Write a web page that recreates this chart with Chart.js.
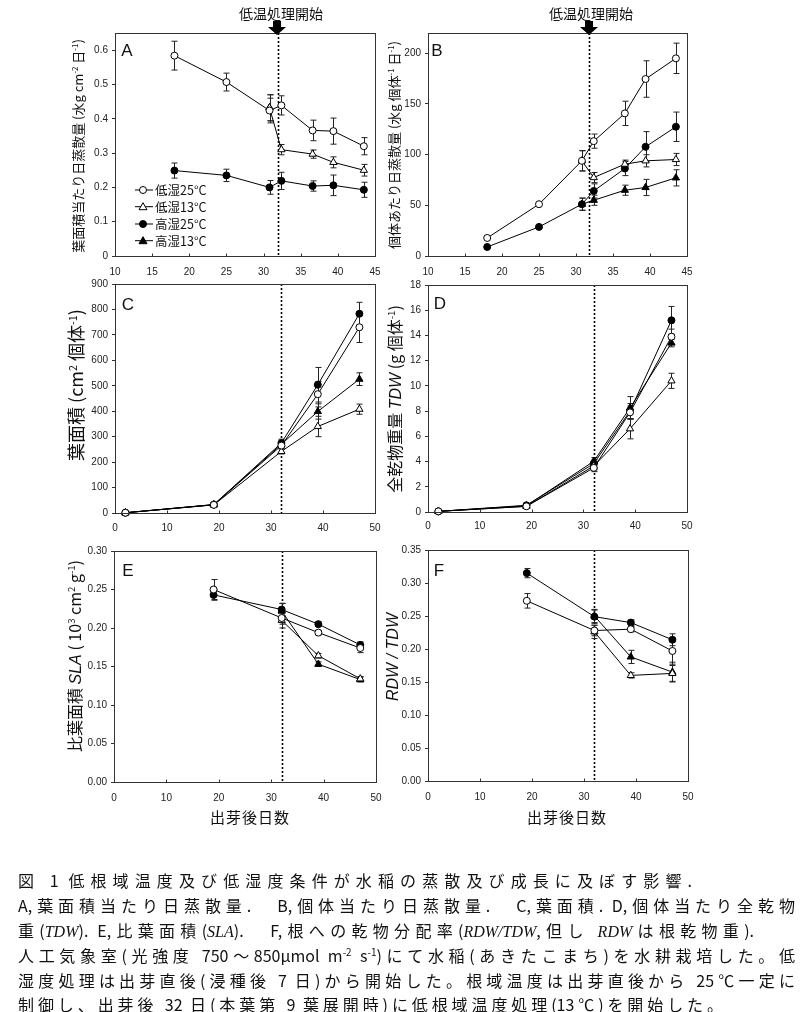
<!DOCTYPE html>
<html><head><meta charset="utf-8">
<script src="https://cdn.jsdelivr.net/npm/chart.js@4.4.0/dist/chart.umd.min.js"></script>
<style>
html,body{margin:0;padding:0;background:#fff;}
#wrap{position:relative;width:806px;height:1012px;overflow:hidden;background:#fff;}
canvas{position:absolute;left:0;top:0;}
.t{position:absolute;white-space:nowrap;color:#111;font-family:"Noto Sans CJK JP","Noto Sans",sans-serif;line-height:1;}
.rot{transform:translate(-50%,-50%) rotate(-90deg);}
.ctr{transform:translate(-50%,-50%);}
.lat{font-family:"Liberation Sans",Arial,sans-serif;}
sup{font-size:0.6em;vertical-align:0.6em;line-height:0;}
.cap{position:absolute;left:18px;height:22px;line-height:22px;font-size:16px;color:#111;
  font-family:"Noto Sans CJK JP",sans-serif;text-align:justify;text-align-last:justify;}
.cap i{font-family:"Liberation Serif",serif;}
.cap sup{font-size:10px;vertical-align:6px;}
</style></head>
<body><div id="wrap">
<canvas id="cA" width="806" height="1012"></canvas>
<canvas id="cB" width="806" height="1012"></canvas>
<canvas id="cC" width="806" height="1012"></canvas>
<canvas id="cD" width="806" height="1012"></canvas>
<canvas id="cE" width="806" height="1012"></canvas>
<canvas id="cF" width="806" height="1012"></canvas>

<div class="t ctr" style="left:281px;top:13px;font-size:14px;">低温処理開始</div>
<div class="t ctr" style="left:591px;top:13px;font-size:14px;">低温処理開始</div>
<svg style="position:absolute;left:0;top:0" width="806" height="60">
  <polygon points="273,21 281,21 281,27 286,27 277,35 268,27 273,27" fill="#000"/>
  <polygon points="585,21 593,21 593,27 598,27 589,35 580,27 585,27" fill="#000"/>
</svg>

<div class="t lat ctr" style="left:127px;top:50px;font-size:17px;">A</div>
<div class="t lat ctr" style="left:437px;top:50px;font-size:17px;">B</div>
<div class="t lat ctr" style="left:128px;top:304px;font-size:17px;">C</div>
<div class="t lat ctr" style="left:440px;top:303px;font-size:17px;">D</div>
<div class="t lat ctr" style="left:128px;top:570px;font-size:17px;">E</div>
<div class="t lat ctr" style="left:439px;top:570px;font-size:17px;">F</div>

<div class="t rot" style="left:77px;top:146px;font-size:13px;">葉面積当たり日蒸散量 (水g cm<sup>-2</sup> 日<sup>-1</sup>)</div>
<div class="t rot" style="left:393px;top:145px;font-size:13px;">個体あたり日蒸散量 (水g 個体<sup>-1</sup> 日<sup>-1</sup>)</div>
<div class="t rot" style="left:75px;top:385px;font-size:18px;">葉面積 (cm<sup>2</sup> 個体<sup>-1</sup>)</div>
<div class="t rot" style="left:395px;top:399px;font-size:16px;">全乾物重量 <i class="lat">TDW</i> (g 個体<sup>-1</sup>)</div>
<div class="t rot" style="left:75px;top:656px;font-size:16px;">比葉面積 <i class="lat">SLA</i> ( 10<sup>3</sup> cm<sup>2</sup> g<sup>-1</sup>)</div>
<div class="t rot lat" style="left:393px;top:657px;font-size:16px;font-style:italic;">RDW / TDW</div>

<div class="t ctr" style="left:250px;top:816px;font-size:15px;letter-spacing:1px;">出芽後日数</div>
<div class="t ctr" style="left:567px;top:816px;font-size:15px;letter-spacing:1px;">出芽後日数</div>

<svg style="position:absolute;left:130px;top:180px" width="28" height="70">
  <line x1="5" y1="10" x2="23" y2="10" stroke="#000"/><circle cx="13" cy="10" r="3.5" fill="#fff" stroke="#000"/>
  <line x1="5" y1="26.7" x2="23" y2="26.7" stroke="#000"/><polygon points="13,22.7 9,29.7 17,29.7" fill="#fff" stroke="#000"/>
  <line x1="5" y1="44" x2="23" y2="44" stroke="#000"/><circle cx="13" cy="44" r="3.5" fill="#000" stroke="#000"/>
  <line x1="5" y1="60.7" x2="23" y2="60.7" stroke="#000"/><polygon points="13,56.7 9,63.7 17,63.7" fill="#000" stroke="#000"/>
</svg>
<div class="t" style="left:155px;top:184px;font-size:12.5px;">低湿25°C</div>
<div class="t" style="left:155px;top:200.7px;font-size:12.5px;">低湿13°C</div>
<div class="t" style="left:155px;top:218px;font-size:12.5px;">高湿25°C</div>
<div class="t" style="left:155px;top:234.7px;font-size:12.5px;">高湿13°C</div>

<div class="cap" style="top:869px;width:674px;">図 1 低根域温度及び低湿度条件が水稲の蒸散及び成長に及ぼす影響.</div>
<div class="cap" style="top:894px;width:777px;">A,葉面積当たり日蒸散量.　B,個体当たり日蒸散量.　C,葉面積. D,個体当たり全乾物</div>
<div class="cap" style="top:919px;width:736px;">重(<i>TDW</i>). E,比葉面積(<i>SLA</i>).　F,根への乾物分配率(<i>RDW/TDW</i>,但し <i>RDW</i>は根乾物重).</div>
<div class="cap" style="top:944px;width:777px;">人工気象室(光強度 750～850μmol m<sup>-2</sup> s<sup>-1</sup>)にて水稲(あきたこまち)を水耕栽培した。低</div>
<div class="cap" style="top:969px;width:777px;">湿度処理は出芽直後(浸種後 7 日)から開始した。根域温度は出芽直後から 25℃一定に</div>
<div class="cap" style="top:993px;width:705px;">制御し、出芽後 32 日(本葉第 9 葉展開時)に低根域温度処理(13℃)を開始した。</div>
</div>

<script>
// ---------- data ----------
const seriesLabels = ['低湿25°C', '低湿13°C', '高湿25°C', '高湿13°C'];

const daysAB = [18, 25, 30.8, 32.4, 36.6, 39.4, 43.5];
const daysCD = [2, 19, 32, 39, 47];
const daysEF = [19, 32, 39, 47];

// A: 葉面積当たり日蒸散量
const A_low25 = [0.584, 0.507, 0.424, 0.439, 0.366, 0.364, 0.320];
const A_low25_err = [0.042, 0.026, 0.036, 0.028, 0.030, 0.038, 0.025];
const A_low13 = [null, null, 0.432, 0.310, 0.297, 0.273, 0.250];
const A_low13_err = [0, 0, 0.038, 0.015, 0.012, 0.016, 0.017];
const A_high25 = [0.249, 0.235, 0.200, 0.219, 0.204, 0.206, 0.193];
const A_high25_err = [0.022, 0.018, 0.020, 0.025, 0.015, 0.030, 0.022];
const A_high13 = [null, null, 0.432, null, null, null, null];
const A_high13_err = [0, 0, 0.038, 0, 0, 0, 0];

// B: 個体あたり日蒸散量
const B_low25 = [17.8, 51.1, 93.9, 113.3, 140.7, 174.6, 195.0];
const B_low25_err = [0, 0, 10, 7, 12, 18, 15];
const B_low13 = [null, null, 93.9, 77.4, 90.6, 93.9, 95.2];
const B_low13_err = [0, 0, 10, 5, 4, 6, 6];
const B_high25 = [8.9, 28.7, 51.1, 64.2, 86.3, 107.7, 127.5];
const B_high25_err = [0, 0, 6, 7, 7, 15, 14.5];
const B_high13 = [null, null, 51.1, 55.0, 64.9, 67.6, 77.1];
const B_high13_err = [0, 0, 6, 5, 5, 8, 8];

// C: 葉面積
const C_low25 = [1, 32, 265, 467, 730];
const C_low25_err = [0, 0, 12, 50, 60];
const C_low13 = [1, 32, 242, 340, 408];
const C_low13_err = [0, 0, 10, 40, 20];
const C_high25 = [1, 33, 275, 504, 783];
const C_high25_err = [0, 3, 15, 68, 45];
const C_high13 = [1, 33, 270, 399, 526];
const C_high13_err = [0, 0, 10, 30, 25];

// D: 全乾物重量 TDW
const D_low25 = [0.05, 0.45, 3.50, 7.90, 13.9];
const D_low25_err = [0, 0, 0.3, 0.5, 0.6];
const D_low13 = [0.05, 0.45, 3.65, 6.60, 10.4];
const D_low13_err = [0, 0, 0.3, 0.8, 0.6];
const D_high25 = [0.05, 0.53, 3.84, 8.00, 15.2];
const D_high25_err = [0, 0, 0.3, 0.6, 1.1];
const D_high13 = [0.05, 0.50, 4.02, 8.25, 13.4];
const D_high13_err = [0, 0, 0.3, 0.9, 0.3];

// E: 比葉面積 SLA
const E_low25 = [0.250, 0.213, 0.194, 0.174];
const E_low25_err = [0.013, 0.008, 0.003, 0.006];
const E_low13 = [null, 0.210, 0.164, 0.134];
const E_low13_err = [0, 0.010, 0.003, 0.003];
const E_high25 = [0.243, 0.224, 0.205, 0.178];
const E_high25_err = [0.007, 0.008, 0.003, 0.004];
const E_high13 = [null, 0.222, 0.153, 0.133];
const E_high13_err = [0, 0.010, 0.003, 0.003];

// F: RDW/TDW
const F_low25 = [0.273, 0.228, 0.230, 0.197];
const F_low25_err = [0.011, 0.008, 0.004, 0.020];
const F_low13 = [null, 0.226, 0.160, 0.163];
const F_low13_err = [0, 0.010, 0.004, 0.012];
const F_high25 = [0.315, 0.249, 0.240, 0.214];
const F_high25_err = [0.007, 0.010, 0.004, 0.009];
const F_high13 = [null, 0.250, 0.188, 0.165];
const F_high13_err = [0, 0.010, 0.010, 0.015];

// tick values
const xTicksAB = [10, 15, 20, 25, 30, 35, 40, 45];
const xTicksCF = [0, 10, 20, 30, 40, 50];
const yTicksA = [0, 0.1, 0.2, 0.3, 0.4, 0.5, 0.6];
const yTicksB = [0, 50, 100, 150, 200];
const yTicksC = [0, 100, 200, 300, 400, 500, 600, 700, 800, 900];
const yTicksD = [0, 2, 4, 6, 8, 10, 12, 14, 16, 18];
const yTicksE = [0, 0.05, 0.10, 0.15, 0.20, 0.25, 0.30];
const yTicksF = [0, 0.05, 0.10, 0.15, 0.20, 0.25, 0.30, 0.35];

// ---------- rendering ----------
const CW = 806, CH = 1012;
const STY = [
  {ps: 'circle', fill: '#fff', r: 3.5},
  {ps: 'triangle', fill: '#fff', r: 4.2},
  {ps: 'circle', fill: '#000', r: 3.5},
  {ps: 'triangle', fill: '#000', r: 4.2}
];

function ds(si, xs, ys, es) {
  const pts = [], errs = [];
  xs.forEach((x, i) => { if (ys[i] !== null) { pts.push({x: x, y: ys[i]}); errs.push(es[i] || 0); } });
  const s = STY[si];
  return {label: seriesLabels[si], data: pts, errs: errs, showLine: true, borderColor: '#000', borderWidth: 1,
    pointStyle: s.ps, pointRadius: s.r, pointBackgroundColor: s.fill, pointBorderColor: '#000',
    pointBorderWidth: 1, tension: 0, clip: false};
}

const deco = {
  id: 'deco',
  beforeDatasetsDraw(chart, args, o) {
    const ctx = chart.ctx, a = chart.chartArea, xs = chart.scales.x, ys = chart.scales.y;
    if (o.vline != null) {
      const px = Math.round(xs.getPixelForValue(o.vline)) + 0.5;
      ctx.save(); ctx.strokeStyle = '#000'; ctx.lineWidth = 1.6; ctx.setLineDash([2, 2]);
      ctx.beginPath(); ctx.moveTo(px, a.top); ctx.lineTo(px, a.bottom); ctx.stroke(); ctx.restore();
    }
    ctx.save(); ctx.strokeStyle = '#222'; ctx.lineWidth = 1;
    chart.data.datasets.forEach(d => {
      d.data.forEach((p, i) => {
        const e = d.errs[i]; if (!e) return;
        const px = Math.round(xs.getPixelForValue(p.x)) + 0.5;
        const y1 = ys.getPixelForValue(p.y + e), y2 = ys.getPixelForValue(p.y - e);
        ctx.beginPath();
        ctx.moveTo(px, y1); ctx.lineTo(px, y2);
        ctx.moveTo(px - 3, y1); ctx.lineTo(px + 3, y1);
        ctx.moveTo(px - 3, y2); ctx.lineTo(px + 3, y2);
        ctx.stroke();
      });
    });
    ctx.restore();
  },
  afterDraw(chart) {
    const ctx = chart.ctx, a = chart.chartArea, xs = chart.scales.x;
    ctx.save(); ctx.strokeStyle = '#333'; ctx.lineWidth = 1;
    const L = Math.round(a.left) + 0.5, T = Math.round(a.top) + 0.5, R = Math.round(a.right) + 0.5, B = Math.round(a.bottom) + 0.5;
    ctx.strokeRect(L, T, R - L, B - T);
    ctx.beginPath();
    xs.ticks.forEach(t => { const px = Math.round(xs.getPixelForValue(t.value)) + 0.5; ctx.moveTo(px, B); ctx.lineTo(px, B - 3); });
    ctx.stroke(); ctx.restore();
  }
};

function panel(id, o) {
  const Wy = 40, Hx = 22;
  new Chart(document.getElementById(id), {
    type: 'scatter',
    data: {datasets: o.sets},
    options: {
      responsive: false, animation: false, devicePixelRatio: 1, events: [],
      layout: {padding: {left: o.L - Wy, top: o.T, right: CW - o.R, bottom: CH - o.B - Hx}},
      plugins: {legend: {display: false}, tooltip: {enabled: false}, deco: {vline: o.vline}},
      scales: {
        x: {type: 'linear', min: o.xMin, max: o.xMax,
          grid: {display: false, drawTicks: false}, border: {display: false},
          afterBuildTicks: s => { s.ticks = o.xTicks.map(v => ({value: v})); },
          afterFit: s => { s.height = Hx; s.paddingLeft = 0; s.paddingRight = 0; },
          ticks: {padding: o.xPad, maxRotation: 0, autoSkip: false, color: '#222',
            font: {family: 'Liberation Sans', size: 10}, callback: v => String(v)}},
        y: {type: 'linear', min: o.yMin, max: o.yMax,
          grid: {drawOnChartArea: false, drawTicks: true, tickLength: 3, color: '#333'}, border: {display: false},
          afterBuildTicks: s => { s.ticks = o.yTicks.map(v => ({value: v})); },
          afterFit: s => { s.width = Wy; s.paddingTop = 0; s.paddingBottom = 0; },
          ticks: {padding: 4, autoSkip: false, color: '#222',
            font: {family: 'Liberation Sans', size: 10}, callback: o.yFmt}}
      }
    },
    plugins: [deco]
  });
}

const f1 = v => v === 0 ? '0' : v.toFixed(1);
const f2 = v => v.toFixed(2);
const f0 = v => String(v);

panel('cA', {L: 115, T: 33, R: 375, B: 256, xMin: 10, xMax: 45, yMin: 0, yMax: 0.65,
  xTicks: xTicksAB, yTicks: yTicksA, yFmt: f1, xPad: 10, vline: 32,
  sets: [ds(0, daysAB, A_low25, A_low25_err), ds(1, daysAB, A_low13, A_low13_err),
         ds(2, daysAB, A_high25, A_high25_err), ds(3, daysAB, A_high13, A_high13_err)]});
panel('cB', {L: 428, T: 33, R: 687, B: 256, xMin: 10, xMax: 45, yMin: 0, yMax: 220,
  xTicks: xTicksAB, yTicks: yTicksB, yFmt: f0, xPad: 10, vline: 31.7,
  sets: [ds(0, daysAB, B_low25, B_low25_err), ds(1, daysAB, B_low13, B_low13_err),
         ds(2, daysAB, B_high25, B_high25_err), ds(3, daysAB, B_high13, B_high13_err)]});
panel('cC', {L: 115, T: 284, R: 375, B: 513, xMin: 0, xMax: 50, yMin: 0, yMax: 900,
  xTicks: xTicksCF, yTicks: yTicksC, yFmt: f0, xPad: 9, vline: 32,
  sets: [ds(0, daysCD, C_low25, C_low25_err), ds(1, daysCD, C_low13, C_low13_err),
         ds(2, daysCD, C_high25, C_high25_err), ds(3, daysCD, C_high13, C_high13_err)]});
panel('cD', {L: 428, T: 285, R: 687, B: 512, xMin: 0, xMax: 50, yMin: 0, yMax: 18,
  xTicks: xTicksCF, yTicks: yTicksD, yFmt: f0, xPad: 8, vline: 32,
  sets: [ds(0, daysCD, D_low25, D_low25_err), ds(1, daysCD, D_low13, D_low13_err),
         ds(2, daysCD, D_high25, D_high25_err), ds(3, daysCD, D_high13, D_high13_err)]});
panel('cE', {L: 114, T: 551, R: 376, B: 782, xMin: 0, xMax: 50, yMin: 0, yMax: 0.30,
  xTicks: xTicksCF, yTicks: yTicksE, yFmt: f2, xPad: 10, vline: 32,
  sets: [ds(0, daysEF, E_low25, E_low25_err), ds(1, daysEF, E_low13, E_low13_err),
         ds(2, daysEF, E_high25, E_high25_err), ds(3, daysEF, E_high13, E_high13_err)]});
panel('cF', {L: 428, T: 550, R: 688, B: 781, xMin: 0, xMax: 50, yMin: 0, yMax: 0.35,
  xTicks: xTicksCF, yTicks: yTicksF, yFmt: f2, xPad: 10, vline: 32,
  sets: [ds(0, daysEF, F_low25, F_low25_err), ds(1, daysEF, F_low13, F_low13_err),
         ds(2, daysEF, F_high25, F_high25_err), ds(3, daysEF, F_high13, F_high13_err)]});
</script>
</body></html>
